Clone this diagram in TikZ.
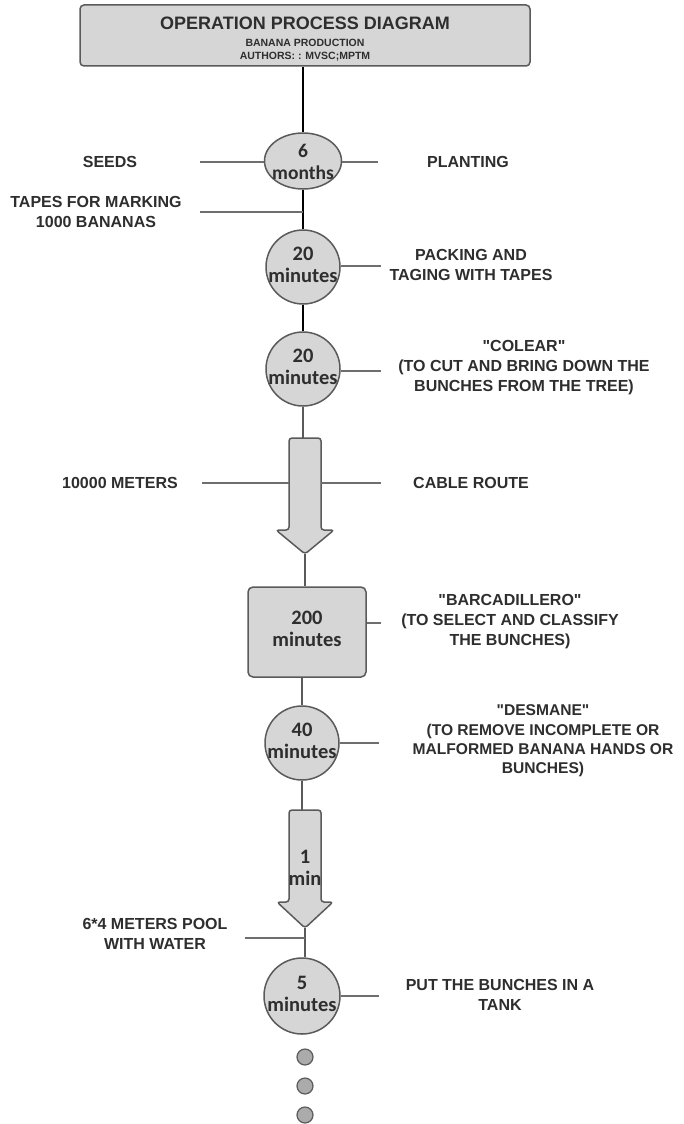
\documentclass[tikz,border=0pt]{standalone}
\usepackage{fontspec}
\setmainfont{Liberation Sans}[Ligatures=TeXOff]
\newfontfamily\nodefont{Carlito}
\usetikzlibrary{shapes.geometric}
\definecolor{fillg}{HTML}{D6D6D6}
\definecolor{edgeg}{HTML}{5A5A5A}
\definecolor{lineg}{HTML}{6E6E6E}
\definecolor{txt}{HTML}{2E2E2E}
\definecolor{dotg}{HTML}{ABABAB}
\tikzset{
  lbl/.style={font=\fontsize{16}{20}\selectfont\bfseries, text=txt, align=center, inner sep=0pt},
  ntext/.style={font=\nodefont\fontsize{20.5}{22}\selectfont\bfseries, text=txt, align=center, inner sep=0pt},
  opcirc/.style={circle, draw=edgeg, fill=fillg, line width=1.5pt, minimum size=74pt, inner sep=0pt},
  opbox/.style={draw=edgeg, fill=fillg, line width=1.5pt, rounded corners=5pt, inner sep=0pt},
  sideline/.style={draw=lineg, line width=1.5pt},
  mainline/.style={draw=black, line width=2.5pt},
  flow/.style={draw=edgeg, line width=1.5pt},
  bigarrow/.style={fill=fillg, draw=edgeg, line width=1.5pt, rounded corners=3pt},
  dotnode/.style={circle, fill=dotg, draw=edgeg, line width=1.2pt, minimum size=16pt, inner sep=0pt}
}
\begin{document}
\begin{tikzpicture}[x=1pt,y=-1pt]
\useasboundingbox[fill=white] (0,0) rectangle (684,1124);

% title
\node[opbox, rounded corners=4pt, minimum width=450pt, minimum height=61pt] (title) at (305,35.5) {};
\node[lbl, font=\fontsize{18}{20}\selectfont\bfseries] (t1) at (305,23) {OPERATION PROCESS DIAGRAM};
\node[lbl, font=\fontsize{10.5}{12}\selectfont\bfseries] (t2) at (305,43) {BANANA PRODUCTION};
\node[lbl, font=\fontsize{10.5}{12}\selectfont\bfseries] (t3) at (305,57) {AUTHORS: : MVSC;MPTM};

% operation 1 (ellipse)
\node[ellipse, draw=edgeg, fill=fillg, line width=1.5pt, minimum width=77pt, minimum height=56pt, inner sep=0pt] (e1) at (303,161) {};
\node[ntext, font=\nodefont\fontsize{19.5}{22}\selectfont\bfseries] (e1t) at (303,162) {6\\months};
\draw[mainline] (e1.north |- title.south) -- (e1.north);
\coordinate (s1l) at (200,162);
\coordinate (s1r) at (378,162);
\draw[sideline] (s1l) -- (s1l -| e1.west);
\draw[sideline] (s1r -| e1.east) -- (s1r);
\node[lbl] (seeds) at (110,162) {SEEDS};
\node[lbl] (plant) at (468,162) {PLANTING};

% operation 2
\node[opcirc] (c2) at (303,267) {};
\node[ntext] (c2t) at (303,265) {20\\minutes};
\draw[mainline] (e1.south) -- (c2.north);
\coordinate (tp) at (200,212);
\draw[sideline] (tp) -- (tp -| c2.north);
\node[lbl] (tapes) at (96,212) {TAPES FOR MARKING\\1000 BANANAS};
\coordinate (s2r) at (381,266);
\draw[sideline] (s2r -| c2.east) -- (s2r);
\node[lbl] (pack) at (471,265) {PACKING AND\\TAGING WITH TAPES};

% operation 3
\node[opcirc] (c3) at (303,369) {};
\node[ntext] (c3t) at (303,367) {20\\minutes};
\draw[mainline] (c2.south) -- (c3.north);
\coordinate (s3r) at (381,371);
\draw[sideline] (s3r -| c3.east) -- (s3r);
\node[lbl] (colear) at (524,368) {"COLEAR"\\(TO CUT AND BRING DOWN THE\\BUNCHES FROM THE TREE)};

% transport 1
\draw[bigarrow] (289,438) -- (321,438) -- (321,530) -- (334,530) -- (305,554) -- (276,530) -- (289,530) -- cycle;
\coordinate (a1top) at (305,438);
\coordinate (a1tip) at (305,554);
\coordinate (a1l) at (289,483);
\coordinate (a1r) at (321,483);
\draw[flow] (c3.south) -- (c3.south |- a1top);
\coordinate (s4l) at (202,483);
\coordinate (s4r) at (381,483);
\draw[sideline] (s4l) -- (a1l);
\draw[sideline] (a1r) -- (s4r);
\node[lbl] (meters) at (120,483) {10000 METERS};
\node[lbl] (cable) at (471,483) {CABLE ROUTE};

% inspection box
\node[opbox, minimum width=118pt, minimum height=90pt] (box) at (307,632) {};
\node[ntext] (boxt) at (307,629) {200\\minutes};
\draw[flow] (a1tip) -- (a1tip |- box.north);
\coordinate (s5r) at (381,623);
\draw[sideline] (s5r -| box.east) -- (s5r);
\node[lbl] (barca) at (510,622) {"BARCADILLERO"\\(TO SELECT AND CLASSIFY\\THE BUNCHES)};

% operation 4
\node[opcirc] (c4) at (302,743) {};
\node[ntext] (c4t) at (302,741) {40\\minutes};
\draw[flow] (box.south -| c4.north) -- (c4.north);
\coordinate (s6r) at (379,743);
\draw[sideline] (c4.east) -- (s6r);
\node[lbl, font=\fontsize{15.6}{19.4}\selectfont\bfseries] (desm) at (543,741) {"DESMANE"\\(TO REMOVE INCOMPLETE OR\\MALFORMED BANANA HANDS OR\\BUNCHES)};

% transport 2
\draw[bigarrow] (289,810) -- (321,810) -- (321,902) -- (333,902) -- (305,928) -- (277,902) -- (289,902) -- cycle;
\coordinate (a2top) at (305,810);
\coordinate (a2tip) at (305,928);
\node[ntext] (a2t) at (305,868) {1\\min};
\draw[flow] (c4.south) -- (c4.south |- a2top);

% operation 5
\node[opcirc, minimum size=76pt] (c5) at (302,996) {};
\node[ntext] (c5t) at (302,994) {5\\minutes};
\draw[flow] (a2tip) -- (a2tip |- c5.north);
\coordinate (poolc) at (245,938);
\draw[sideline] (poolc) -- (poolc -| a2tip);
\node[lbl] (pool) at (155,934) {6*4 METERS POOL\\WITH WATER};
\coordinate (s7r) at (379,996);
\draw[sideline] (c5.east) -- (s7r);
\node[lbl] (tank) at (500,995) {PUT THE BUNCHES IN A\\TANK};

% continuation dots
\node[dotnode] (d1) at (305,1057) {};
\node[dotnode] (d2) at (305,1086) {};
\node[dotnode] (d3) at (305,1115) {};
\end{tikzpicture}
\end{document}
